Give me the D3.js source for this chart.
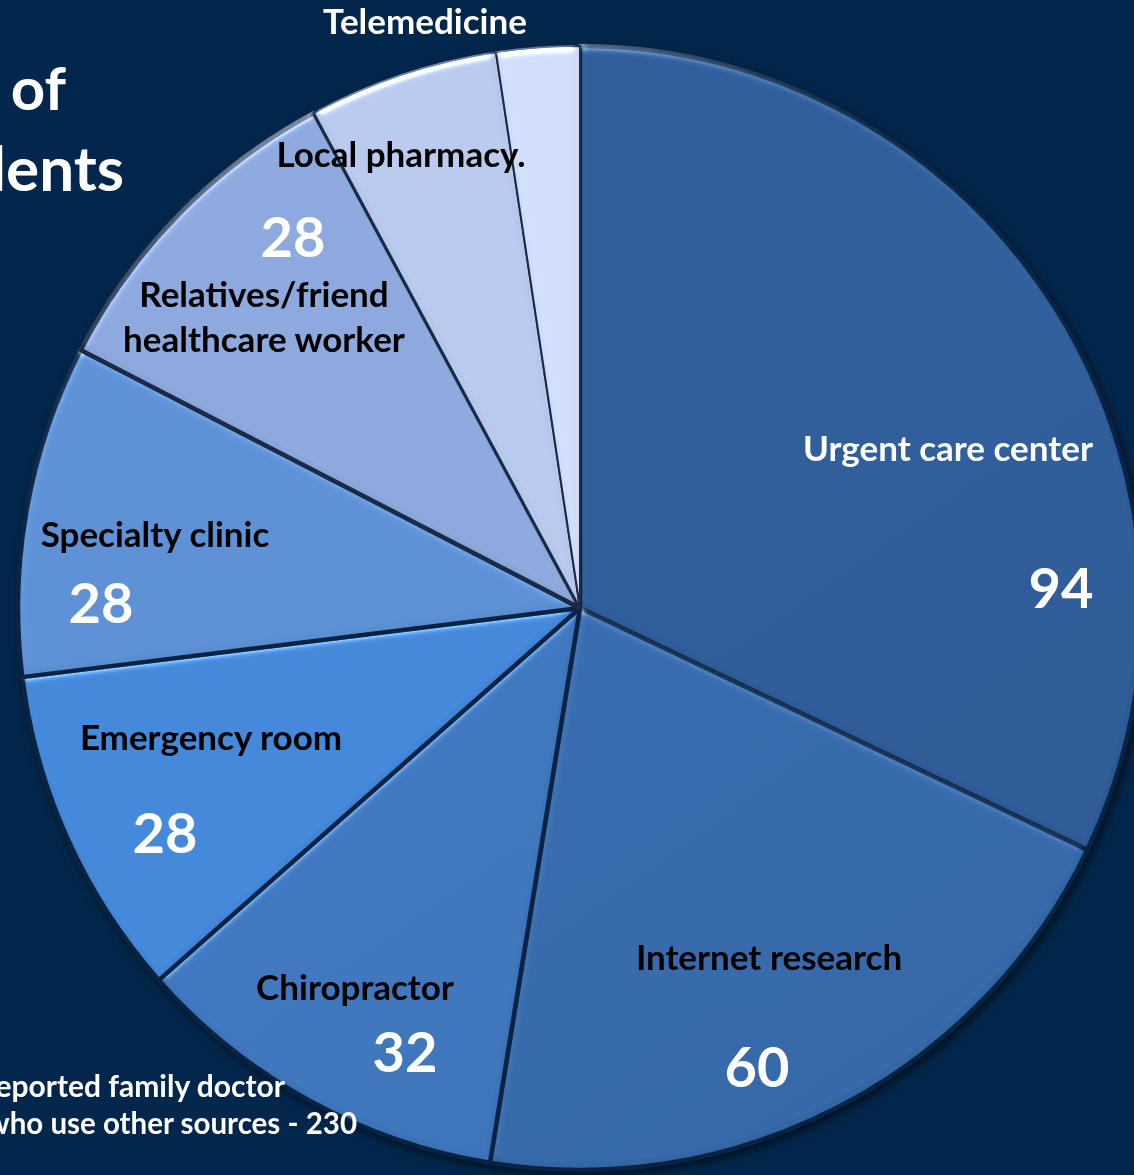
<!DOCTYPE html>
<html>
<head>
<meta charset="utf-8">
<script src="https://cdn.jsdelivr.net/npm/d3@7"></script>
<style>
  html, body { margin: 0; padding: 0; background: #03274c; }
  svg { display: block; }
  text { font-family: Lato, "Open Sans", sans-serif; font-weight: bold; }
</style>
</head>
<body>
<div id="chart"></div>
<script>
// data
const categories = ["Urgent care center", "Internet research", "Chiropractor", "Emergency room",
                    "Specialty clinic", "Relatives/friend healthcare worker", "Local pharmacy.", "Telemedicine"];
const values = [94, 60, 32, 28, 28, 28, 16, 7];
const valueShown = [true, true, true, true, true, true, false, false];
const nameLines = [["Urgent care center"], ["Internet research"], ["Chiropractor"], ["Emergency room"],
                   ["Specialty clinic"], ["Relatives/friend", "healthcare worker"], ["Local pharmacy."], ["Telemedicine"]];
const titleLines = ["Number of", "respondents"];
const noteLines = ["reported family doctor", "who use other sources - 230"];

const colors = ["#2b5690", "#3264a2", "#3a6fb2", "#3d7ecb", "#5586c6", "#829cce", "#adbcdf", "#c3d0ea"];
const nameColors = ["#fff", "#000", "#000", "#000", "#000", "#000", "#000", "#fff"];

// label placement (offset from pie centre): name baseline, value baseline
const nameOffset = [[368, -147], [189, 362], [-225, 392], [-369, 142], [-425, -61], [-316, -301], [-179, -441], [-155, -574]];
const valueOffset = [[481, 0], [177, 479], [-175, 464], [-415, 245], [-479, 15], [-287, -351], null, null];

let width = 1134;
let height = 1175;
let cx = 580, cy = 608, radius = 562;

let svg = d3.select("#chart").append("svg")
    .attr("width", width)
    .attr("height", height);

svg.append("rect").attr("width", width).attr("height", height).attr("fill", "#03274c");

let defs = svg.append("defs");

// bevel look of the slices
let bevel = defs.append("filter").attr("id", "bevel")
    .attr("color-interpolation-filters", "sRGB")
    .attr("x", "-5%").attr("y", "-5%").attr("width", "110%").attr("height", "110%");
bevel.append("feGaussianBlur").attr("in", "SourceAlpha").attr("stdDeviation", 4).attr("result", "blur");
bevel.append("feSpecularLighting").attr("in", "blur").attr("surfaceScale", 4)
    .attr("specularConstant", 0.6).attr("specularExponent", 22)
    .attr("lighting-color", "#ffffff").attr("result", "spec")
    .append("feDistantLight").attr("azimuth", 250).attr("elevation", 30);
bevel.append("feComposite").attr("in", "spec").attr("in2", "SourceAlpha").attr("operator", "in").attr("result", "specOut");
bevel.append("feComposite").attr("in", "SourceGraphic").attr("in2", "specOut")
    .attr("operator", "arithmetic").attr("k1", 0).attr("k2", 1).attr("k3", 0.7).attr("k4", 0);

let shadow = defs.append("filter").attr("id", "shadow")
    .attr("color-interpolation-filters", "sRGB")
    .attr("x", "-10%").attr("y", "-10%").attr("width", "120%").attr("height", "120%");
shadow.append("feDropShadow").attr("dx", 3).attr("dy", 4).attr("stdDeviation", 5)
    .attr("flood-color", "#000").attr("flood-opacity", 0.55);

colors.forEach(function(c, i) {
    let g = defs.append("linearGradient")
        .attr("id", "grad" + i)
        .attr("gradientUnits", "userSpaceOnUse")
        .attr("x1", cx - radius).attr("y1", cy - radius)
        .attr("x2", cx + radius * 0.4).attr("y2", cy + radius);
    g.append("stop").attr("offset", "0%").attr("stop-color", d3.color(c).brighter(0.15));
    g.append("stop").attr("offset", "100%").attr("stop-color", d3.color(c).darker(0.15));
});

let pie = d3.pie().sort(null).value(d => d);
let arcs = pie(values);
let arc = d3.arc().innerRadius(0).outerRadius(radius);

let pieG = svg.append("g")
    .attr("transform", "translate(" + cx + "," + cy + ")")
    .attr("filter", "url(#shadow)");

pieG.selectAll("path")
    .data(arcs)
    .enter()
    .append("path")
    .attr("d", arc)
    .attr("fill", (d, i) => "url(#grad" + i + ")")
    .attr("stroke", (d, i) => i >= 5 ? "#1b2b45" : "#0a2343")
    .attr("stroke-width", (d, i) => i >= 6 ? 2 : 4.5)
    .attr("stroke-linejoin", "round")
    .attr("filter", "url(#bevel)");

let labels = svg.append("g").attr("transform", "translate(" + cx + "," + cy + ")");

categories.forEach(function(cat, i) {
    let off = nameOffset[i];
    nameLines[i].forEach(function(line, j) {
        labels.append("text")
            .attr("x", off[0])
            .attr("y", off[1] + j * 45)
            .attr("text-anchor", "middle")
            .attr("font-size", 35)
            .attr("fill", nameColors[i])
            .text(line);
    });
    if (valueShown[i]) {
        labels.append("text")
            .attr("x", valueOffset[i][0])
            .attr("y", valueOffset[i][1])
            .attr("text-anchor", "middle")
            .attr("font-size", 56)
            .attr("fill", "#fff")
            .text(values[i]);
    }
});

// title, cut by the left edge
svg.append("text").attr("x", 66).attr("y", 110).attr("text-anchor", "end")
    .attr("font-size", 60).attr("fill", "#fff").text(titleLines[0]);
svg.append("text").attr("x", 124).attr("y", 191).attr("text-anchor", "end")
    .attr("font-size", 62).attr("fill", "#fff").text(titleLines[1]);

// note at the bottom
svg.append("text").attr("x", 285).attr("y", 1097).attr("text-anchor", "end")
    .attr("font-size", 30).attr("fill", "#fff").text(noteLines[0]);
svg.append("text").attr("x", 357).attr("y", 1134).attr("text-anchor", "end")
    .attr("font-size", 29.5).attr("fill", "#fff").text(noteLines[1]);
</script>
</body>
</html>
